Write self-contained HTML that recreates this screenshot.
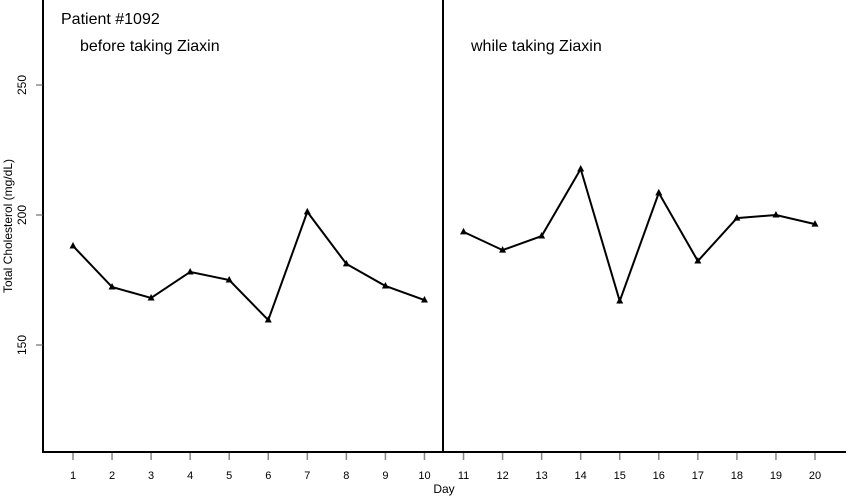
<!DOCTYPE html>
<html><head><meta charset="utf-8"><style>
html,body{margin:0;padding:0;background:#fff;}
svg{display:block;font-family:"Liberation Sans",sans-serif;}
</style></head><body>
<svg id="chart" width="848" height="496" viewBox="0 0 848 496" xmlns="http://www.w3.org/2000/svg">
<line x1="43" y1="0" x2="43" y2="453" stroke="#000" stroke-width="2"/>
<line x1="42" y1="452" x2="846" y2="452" stroke="#000" stroke-width="2"/>
<line x1="443" y1="0" x2="443" y2="452" stroke="#000" stroke-width="2"/>
<text x="61" y="24" font-size="16">Patient #1092</text>
<text x="80" y="51" font-size="16">before taking Ziaxin</text>
<text x="471" y="51" font-size="16">while taking Ziaxin</text>
<text x="444" y="493" font-size="12" text-anchor="middle">Day</text>
<text transform="translate(12,226) rotate(-90)" font-size="12" text-anchor="middle">Total Cholesterol (mg/dL)</text>
<g id="ticks"></g>
<g id="marks"></g>
</svg>
<script>
const days = [1,2,3,4,5,6,7,8,9,10,11,12,13,14,15,16,17,18,19,20];
const cholesterol = [188.1,172.3,168.1,178.1,175,159.6,201.2,181.2,172.7,167.3,193.5,186.5,191.9,217.7,166.9,208.5,182.3,198.8,200,196.5];
const yTicks = [150,200,250];
const NS = "http://www.w3.org/2000/svg";
function xs(d){ return 73 + (d-1)*(815-73)/19; }
function ys(v){ return 215 - (v-200)*2.6; }
const tg = document.getElementById('ticks');
const mg = document.getElementById('marks');
function mk(tag, attrs, parent){ const e=document.createElementNS(NS,tag); for(const k in attrs) e.setAttribute(k,attrs[k]); parent.appendChild(e); return e; }
days.forEach(d=>{
  const t = mk('line',{x1:xs(d),x2:xs(d),y1:453,y2:460,stroke:'#888','stroke-width':1.5},tg);
  
  
  const l = mk('text',{x:xs(d),y:479,'font-size':11,'text-anchor':'middle'},tg);
  l.textContent = d;
  
  
});
yTicks.forEach(v=>{
  const t = mk('line',{x1:36,x2:43,y1:ys(v),y2:ys(v),stroke:'#555','stroke-width':1},tg);
  
  
  const l = mk('text',{transform:`translate(26,${ys(v)}) rotate(-90)`,'font-size':12,'text-anchor':'middle'},tg);
  l.textContent = v;
  
  
});
function seg(from,to,name){
  const pts = [];
  for(let i=from;i<to;i++) pts.push(xs(days[i])+','+ys(cholesterol[i]));
  const p = mk('polyline',{points:pts.join(' '),fill:'none',stroke:'#000','stroke-width':2},mg);
  
  
}
seg(0,10,'before-line');
seg(10,20,'while-line');
days.forEach((d,i)=>{
  const x=xs(d), y=ys(cholesterol[i]);
  const m = mk('polygon',{points:`${x},${y-4} ${x-3.5},${y+2.5} ${x+3.5},${y+2.5}`,fill:'#000'},mg);
  
  
});
</script>
</body></html>
